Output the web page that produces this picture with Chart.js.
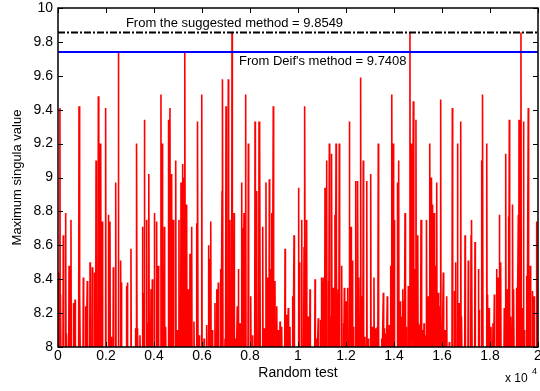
<!DOCTYPE html>
<html>
<head>
<meta charset="utf-8">
<script src="https://cdn.jsdelivr.net/npm/chart.js@4.4.0/dist/chart.umd.min.js"></script>
<style>
  body { margin: 0; background: #fff; }
</style>
</head>
<body>
<canvas id="myChart" width="540" height="391"></canvas>
<script>
// peaks of the random test run (test number, maximum singular value)
const testIndex = [
  20, 80, 110, 220, 320, 360, 460, 540, 640, 710, 875, 915, 1055, 1155, 1220, 1335, 1430, 1515, 1585, 1680,
  1720, 1780, 1845, 1985, 2100, 2165, 2210, 2305, 2405, 2515, 2610, 2650, 2860, 2900, 3040, 3235, 3280, 3320, 3415, 3515,
  3555, 3600, 3695, 3740, 3790, 3875, 3930, 4015, 4110, 4180, 4290, 4350, 4430, 4485, 4600, 4665, 4735, 4805, 4905, 4960,
  5040, 5125, 5195, 5240, 5290, 5360, 5430, 5500, 5570, 5665, 5780, 5820, 5890, 5990, 6085, 6195, 6265, 6305, 6365, 6430,
  6540, 6615, 6680, 6780, 6835, 6860, 6960, 7000, 7095, 7165, 7250, 7335, 7415, 7470, 7515, 7585, 7655, 7695, 7750, 7820,
  7930, 8030, 8110, 8210, 8280, 8375, 8415, 8530, 8585, 8665, 8720, 8805, 8865, 8915, 8970, 9040, 9115, 9180, 9250, 9320,
  9460, 9530, 9595, 9665, 9780, 9835, 10015, 10055, 10155, 10250, 10290, 10360, 10430, 10500, 10710, 10780, 10845, 10945, 10990, 11055,
  11125, 11195, 11265, 11305, 11365, 11405, 11470, 11540, 11585, 11610, 11680, 11720, 11820, 11890, 11930, 12000, 12070, 12140, 12210, 12265,
  12305, 12405, 12445, 12490, 12540, 12610, 12680, 12720, 12790, 12865, 12930, 13030, 13095, 13165, 13240, 13305, 13345, 13490, 13555, 13600,
  13665, 13720, 13805, 13865, 13915, 13970, 14015, 14140, 14195, 14250, 14295, 14365, 14415, 14460, 14500, 14595, 14665, 14710, 14735, 14805,
  14845, 14915, 14990, 15030, 15085, 15125, 15180, 15250, 15320, 15360, 15430, 15490, 15545, 15570, 15615, 15670, 15710, 15780, 15845, 15890,
  15945, 15990, 16055, 16125, 16195, 16305, 16430, 16515, 16570, 16640, 16680, 16720, 16780, 16820, 16960, 17095, 17210, 17240, 17375, 17515,
  17545, 17655, 17695, 17865, 17905, 17960, 18040, 18125, 18180, 18280, 18345, 18390, 18445, 18595, 18655, 18710, 18765, 18805, 18865, 18905,
  18945, 18990, 19110, 19180, 19210, 19290, 19345, 19390, 19430, 19530, 19595, 19680, 19765, 19835, 19945
];
const maxSingular = [
  8.44, 9.41, 8.31, 8.66, 8.79, 8.08, 8.48, 8.75, 8.26, 8.28, 9.42, 8.31, 8.41, 8.24, 8.39, 8.50, 8.47, 8.44, 9.10, 9.48,
  9.20, 9.20, 8.74, 9.41, 8.78, 8.74, 8.06, 8.47, 8.97, 9.74, 8.51, 8.38, 8.36, 8.38, 8.58, 8.11, 9.20, 8.11, 8.07, 8.71,
  8.32, 9.34, 8.75, 8.14, 9.02, 8.34, 8.40, 8.79, 8.74, 8.48, 9.49, 9.20, 8.71, 8.12, 9.34, 9.41, 9.02, 8.75, 9.10, 8.10,
  8.75, 8.97, 9.08, 9.00, 9.74, 8.84, 8.34, 8.55, 8.71, 8.15, 8.73, 9.33, 8.07, 9.49, 8.05, 8.13, 8.60, 8.52, 8.74, 8.10,
  8.26, 8.34, 8.38, 8.46, 8.92, 9.58, 8.05, 9.42, 9.58, 8.75, 9.855, 8.79, 8.05, 8.24, 8.46, 8.14, 8.97, 8.70, 8.79, 9.49,
  9.20, 8.30, 8.07, 9.33, 8.92, 9.33, 9.20, 8.71, 8.11, 8.97, 8.41, 8.99, 8.46, 8.79, 9.42, 8.39, 8.24, 8.10, 8.15, 8.12,
  8.58, 8.19, 8.23, 8.12, 8.30, 8.66, 8.94, 8.50, 8.75, 8.59, 9.42, 8.75, 8.18, 8.34, 8.40, 8.05, 8.17, 8.16, 8.41, 8.41,
  8.94, 9.10, 8.39, 9.20, 8.18, 9.14, 8.35, 8.78, 9.20, 8.47, 8.34, 9.20, 8.48, 8.14, 8.35, 8.27, 8.35, 9.33, 8.71, 8.51,
  8.12, 8.98, 8.16, 8.98, 8.41, 9.59, 8.30, 9.10, 8.06, 8.98, 8.05, 9.02, 8.12, 8.41, 8.11, 8.12, 9.20, 8.05, 8.32, 8.11,
  8.08, 8.30, 8.13, 8.48, 9.49, 9.20, 8.75, 8.97, 9.10, 8.27, 8.18, 8.34, 8.27, 8.79, 8.12, 8.36, 9.855, 9.20, 8.42, 9.45,
  8.46, 9.34, 8.66, 8.14, 8.13, 8.75, 8.10, 8.14, 8.07, 8.75, 8.30, 9.20, 9.00, 8.99, 8.84, 8.79, 8.48, 8.97, 8.32, 8.24,
  9.46, 8.11, 8.44, 8.10, 8.30, 8.03, 9.41, 8.33, 8.50, 9.20, 8.18, 8.26, 9.33, 8.18, 8.66, 8.51, 8.66, 8.75, 8.62, 8.46,
  8.22, 9.10, 9.49, 9.20, 8.31, 8.23, 8.12, 8.14, 8.31, 8.46, 8.41, 8.78, 8.50, 8.23, 9.14, 8.34, 8.77, 9.34, 8.18, 8.12,
  8.84, 8.34, 8.35, 8.78, 9.34, 9.855, 8.23, 9.33, 8.10, 8.42, 9.41, 8.48, 8.33, 8.30, 8.74
];
const belowAxis = 7.9; // the other tests stay under the shown range
const testCount = 20000;

const suggestedValue = 9.8549;
const deifValue = 9.7408;

const yTickValues = [8, 8.2, 8.4, 8.6, 8.8, 9, 9.2, 9.4, 9.6, 9.8, 10];
const xTickValues = [0, 0.2, 0.4, 0.6, 0.8, 1, 1.2, 1.4, 1.6, 1.8, 2]; // x 10^4

const notes = [
  { text: "From the suggested method = " + suggestedValue, x: 2830, y: 9.91 },
  { text: "From Deif's method = " + deifValue, x: 7540, y: 9.685 }
];

const FONT = "'Liberation Sans', Arial, sans-serif";

// red trace: each peak rises from below the axis and falls back
const tracePoints = [];
testIndex.forEach((t, i) => {
  tracePoints.push({ x: t - 15, y: belowAxis });
  tracePoints.push({ x: t, y: maxSingular[i] });
  tracePoints.push({ x: t + 15, y: belowAxis });
});

const fmt = (v) => String(Number(v.toFixed(1)));

const matlabFrame = {
  id: "matlabFrame",
  afterDraw(chart) {
    const { ctx, chartArea: a, scales: { x, y } } = chart;
    ctx.save();
    ctx.strokeStyle = "#000";
    ctx.lineWidth = 1;
    ctx.beginPath();
    x.ticks.forEach((t) => {
      const px = Math.round(x.getPixelForValue(t.value)) + 0.5;
      ctx.moveTo(px, a.bottom); ctx.lineTo(px, a.bottom - 5);
      ctx.moveTo(px, a.top); ctx.lineTo(px, a.top + 5);
    });
    y.ticks.forEach((t) => {
      const py = Math.round(y.getPixelForValue(t.value)) + 0.5;
      ctx.moveTo(a.left, py); ctx.lineTo(a.left + 5, py);
      ctx.moveTo(a.right, py); ctx.lineTo(a.right - 5, py);
    });
    ctx.stroke();
    ctx.lineWidth = 1.5;
    ctx.strokeRect(a.left, a.top, a.right - a.left, a.bottom - a.top);

    ctx.fillStyle = "#000";
    ctx.font = "13px " + FONT;
    ctx.textBaseline = "middle";
    ctx.textAlign = "left";
    notes.forEach((n) => {
      ctx.fillText(n.text, x.getPixelForValue(n.x), y.getPixelForValue(n.y));
    });

    ctx.font = "12px " + FONT;
    ctx.fillText("x 10", a.right - 33, a.bottom + 32);
    ctx.font = "9px " + FONT;
    ctx.fillText("4", a.right - 6, a.bottom + 25);
    ctx.restore();
  }
};

const ctx = document.getElementById("myChart").getContext("2d");
const myChart = new Chart(ctx, {
  type: "line",
  data: {
    datasets: [
      {
        data: [{ x: 0, y: suggestedValue }, { x: testCount, y: suggestedValue }],
        borderColor: "#000",
        borderWidth: 2,
        borderDash: [7, 2, 2, 2],
        pointRadius: 0
      },
      {
        data: [{ x: 0, y: deifValue }, { x: testCount, y: deifValue }],
        borderColor: "#0000ff",
        borderWidth: 2,
        pointRadius: 0
      },
      {
        data: tracePoints,
        borderColor: "#ff0000",
        borderWidth: 1.6,
        pointRadius: 0,
        tension: 0
      }
    ]
  },
  options: {
    responsive: false,
    animation: false,
    devicePixelRatio: 1,
    layout: { padding: { top: 8, right: 2, left: 0, bottom: 0 } },
    plugins: { legend: { display: false }, tooltip: { enabled: false } },
    scales: {
      x: {
        type: "linear",
        min: 0,
        max: testCount,
        grid: { display: false, drawTicks: false },
        border: { display: false },
        afterBuildTicks: (s) => { s.ticks = xTickValues.map((v) => ({ value: v * 10000 })); },
        afterFit: (s) => { s.height = 44; s.paddingLeft = 0; s.paddingRight = 0; },
        ticks: {
          maxRotation: 0,
          autoSkip: false,
          padding: 1,
          color: "#000",
          font: { family: FONT, size: 14 },
          callback: (v) => fmt(v / 10000)
        },
        title: {
          display: true,
          text: "Random test",
          color: "#000",
          font: { family: FONT, size: 14 },
          padding: { top: 0, bottom: 9 }
        }
      },
      y: {
        min: 8,
        max: 10,
        grid: { display: false, drawTicks: false },
        border: { display: false },
        afterBuildTicks: (s) => { s.ticks = yTickValues.map((v) => ({ value: v })); },
        afterFit: (s) => { s.width = 58; s.paddingTop = 0; s.paddingBottom = 0; },
        ticks: {
          autoSkip: false,
          padding: 5,
          color: "#000",
          font: { family: FONT, size: 14 },
          callback: (v) => fmt(v)
        },
        title: {
          display: true,
          text: "Maximum singula value",
          color: "#000",
          font: { family: FONT, size: 13 },
          padding: { top: 10, bottom: 0 }
        }
      }
    }
  },
  plugins: [matlabFrame]
});
</script>
</body>
</html>
